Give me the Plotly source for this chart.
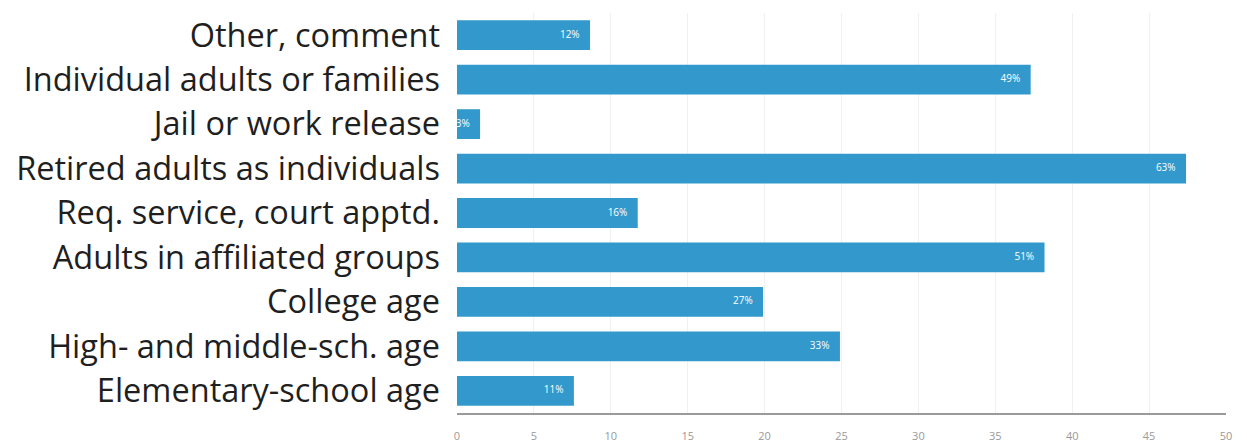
import plotly.graph_objects as go

categories = [
    "Other, comment",
    "Individual adults or families",
    "Jail or work release",
    "Retired adults as individuals",
    "Req. service, court apptd.",
    "Adults in affiliated groups",
    "College age",
    "High- and middle-sch. age",
    "Elementary-school age",
]
counts = [8.65, 37.3, 1.5, 47.4, 11.75, 38.2, 19.9, 24.9, 7.6]
percent_labels = ["12%", "49%", "3%", "63%", "16%", "51%", "27%", "33%", "11%"]
x_ticks = [0, 5, 10, 15, 20, 25, 30, 35, 40, 45, 50]

bar_color = "#3399CC"

fig = go.Figure()
fig.add_trace(go.Bar(
    x=counts, y=categories, orientation="h",
    marker=dict(color=bar_color, line=dict(width=0)),
    hoverinfo="skip",
))
fig.add_trace(go.Scatter(
    x=counts, y=categories, mode="text",
    text=[t + "\u00a0\u00a0\u00a0\u00a0" for t in percent_labels],
    textposition="middle left",
    textfont=dict(family="Open Sans", size=10, color="white"),
    cliponaxis=True, hoverinfo="skip",
))

fig.update_layout(
    width=1247, height=447,
    margin=dict(l=457, r=21, t=13, b=34, autoexpand=False),
    paper_bgcolor="white", plot_bgcolor="white",
    showlegend=False,
    bargap=0.33,
)
fig.update_xaxes(
    range=[0, 50], tickvals=x_ticks, ticktext=[str(v) for v in x_ticks],
    showgrid=True, gridcolor="#f0f0f0", gridwidth=1,
    zeroline=False, showline=True, linecolor="#9a9a9a", linewidth=2,
    ticks="", ticklabelstandoff=12, automargin=False,
    tickfont=dict(family="Open Sans", size=11, color="#999999"),
    fixedrange=True,
)
fig.update_yaxes(
    categoryorder="array", categoryarray=categories[::-1],
    showgrid=False, zeroline=False, showline=False, ticks="",
    ticklabelstandoff=16, automargin=False,
    tickfont=dict(family="Open Sans", size=32.5, color="#1f1f1f"),
    fixedrange=True,
)

fig.write_html("out.html")
